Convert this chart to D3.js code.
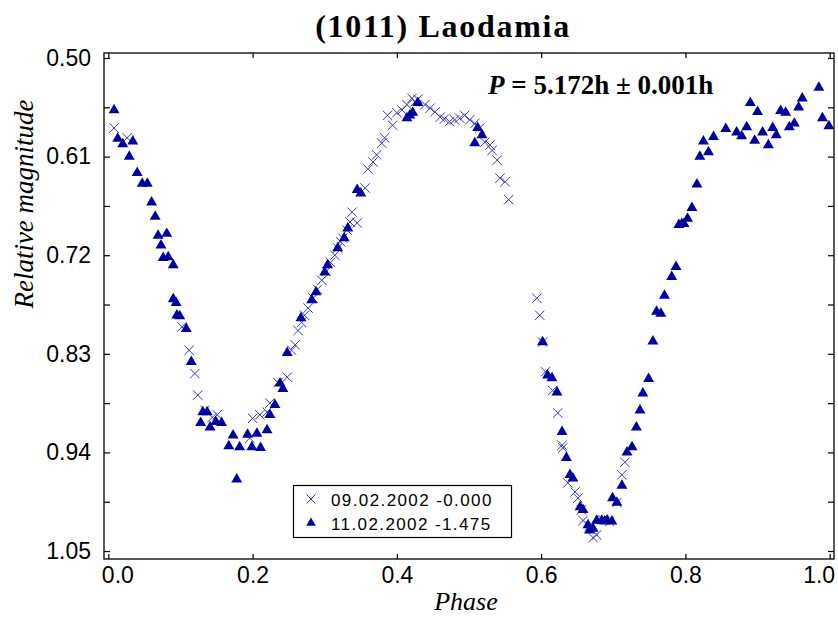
<!DOCTYPE html>
<html>
<head>
<meta charset="utf-8">
<script src="https://cdn.jsdelivr.net/npm/d3@7"></script>
<style>
  body { margin: 0; background: #fff; }
  svg { display: block; }
</style>
</head>
<body>
<div id="chart"></div>
<script>
// Data : lightcurve of (1011) Laodamia
var title = "(1011) Laodamia";
var seriesNames = ["09.02.2002 -0.000", "11.02.2002 -1.475"];

// 09.02.2002 (crosses)
var phaseA = [0.008,0.026,0.102,0.112,0.120,0.124,0.134,0.144,0.151,0.196,0.200,0.210,0.220,0.224,0.235,0.248,
  0.254,0.259,0.263,0.268,0.272,0.277,0.284,0.290,0.296,0.302,0.308,0.314,0.318,0.322,0.325,0.331,0.335,0.338,0.345,
  0.356,0.360,0.367,0.372,0.379,0.383,0.387,0.394,0.400,0.407,0.414,0.421,0.425,0.429,0.439,0.446,0.453,0.460,
  0.466,0.473,0.480,0.487,0.494,0.501,0.508,0.515,0.522,0.529,0.532,0.539,0.543,0.550,0.555,
  0.594,0.598,0.602,0.606,0.616,0.623,0.629,0.630,0.637,0.647,0.651,0.656,0.658,0.667,0.672,0.677,0.685,0.695,
  0.705,0.712,0.716];
var magA = [0.578,0.589,0.800,0.826,0.852,0.876,0.893,0.901,0.898,0.924,0.902,0.898,0.895,0.885,0.862,0.856,
  0.826,0.820,0.804,0.795,0.787,0.779,0.768,0.758,0.748,0.738,0.728,0.720,0.712,0.705,0.701,0.692,0.683,0.672,0.684,
  0.645,0.624,0.616,0.608,0.595,0.589,0.564,0.575,0.561,0.558,0.552,0.545,0.549,0.546,0.552,0.556,0.560,0.566,
  0.568,0.571,0.569,0.567,0.564,0.569,0.573,0.578,0.594,0.597,0.603,0.614,0.634,0.638,0.658,
  0.768,0.787,0.817,0.850,0.871,0.896,0.932,0.935,0.974,0.984,0.991,1.004,1.016,1.022,1.035,1.032,1.015,1.017,
  0.996,0.965,0.951];

// 11.02.2002 (triangles)
var phaseB = [0.008,0.013,0.020,0.034,0.029,0.040,0.047,0.054,0.060,0.065,0.069,0.081,0.073,0.076,0.083,0.090,
  0.090,0.094,0.095,0.099,0.108,0.115,0.131,0.137,0.128,0.141,0.149,0.157,0.167,0.173,0.178,0.182,0.193,0.199,
  0.206,0.211,0.220,0.224,0.231,0.238,0.242,0.248,0.267,0.282,0.288,0.300,0.304,0.318,0.327,0.332,0.345,0.350,
  0.414,0.418,0.422,0.429,0.508,0.512,0.518,
  0.602,0.609,0.615,0.622,0.629,0.635,0.640,0.644,0.654,0.658,0.665,0.667,0.672,0.677,0.684,0.688,0.692,0.698,
  0.699,0.705,0.712,0.719,0.726,0.732,0.737,0.741,0.749,0.755,0.760,0.766,0.771,0.781,0.787,0.791,0.795,0.798,
  0.803,0.809,0.816,0.820,0.825,0.832,0.839,0.856,0.871,0.878,0.885,0.890,0.896,0.900,0.907,0.915,0.921,0.926,
  0.932,0.939,0.944,0.951,0.957,0.962,0.985,0.990,0.999];
var magB = [0.558,0.590,0.596,0.593,0.610,0.628,0.640,0.640,0.661,0.677,0.698,0.696,0.709,0.723,0.722,0.731,
  0.769,0.773,0.787,0.788,0.802,0.839,0.895,0.895,0.907,0.912,0.906,0.907,0.933,0.921,0.970,0.934,0.920,0.934,
  0.919,0.935,0.915,0.898,0.887,0.863,0.869,0.829,0.790,0.770,0.761,0.739,0.731,0.712,0.701,0.690,0.647,0.651,
  0.567,0.564,0.561,0.550,0.595,0.578,0.586,
  0.817,0.854,0.857,0.873,0.917,0.946,0.965,0.969,1.001,1.004,1.021,1.027,1.025,1.016,1.016,1.017,1.016,1.017,
  0.991,0.996,0.977,0.940,0.934,0.912,0.893,0.874,0.858,0.816,0.783,0.785,0.765,0.744,0.733,0.686,0.685,0.685,
  0.679,0.667,0.641,0.610,0.593,0.605,0.588,0.579,0.583,0.587,0.577,0.550,0.592,0.560,0.583,0.597,0.578,0.586,
  0.559,0.561,0.577,0.573,0.555,0.545,0.533,0.567,0.576];

var xTicks = [0, 0.2, 0.4, 0.6, 0.8, 1.0];
var yTicks = [0.50, 0.555, 0.61, 0.665, 0.72, 0.775, 0.83, 0.885, 0.94, 0.995, 1.05];
var yLabels = [0.50, 0.61, 0.72, 0.83, 0.94, 1.05];

var width = 838,
    height = 619;

var colorCross = "#3535c8",
    colorTri = "#0000a0";

var svg = d3.select("#chart").append("svg")
  .attr("width", width)
  .attr("height", height);

var x = d3.scaleLinear().domain([-0.006, 1.006]).range([104, 834]);
var y = d3.scaleLinear().domain([0.4944, 1.0589]).range([53, 559]);

// frame
svg.append("rect")
  .attr("x", 104).attr("y", 53)
  .attr("width", 730).attr("height", 506)
  .attr("fill", "none")
  .attr("stroke", "#000")
  .attr("stroke-width", 1.3);

var fmtY = function(d) {
  return yLabels.indexOf(d) != -1 ? d3.format(".2f")(d) : "";
};

var xBottom = svg.append("g")
  .attr("transform", "translate(0,559)")
  .call(d3.axisBottom(x).tickValues(xTicks).tickSize(-5).tickPadding(8).tickFormat(d3.format(".1f")));
var xTop = svg.append("g")
  .attr("transform", "translate(0,53)")
  .call(d3.axisTop(x).tickValues(xTicks).tickSize(-5).tickFormat(""));
var yLeft = svg.append("g")
  .attr("transform", "translate(104,0)")
  .call(d3.axisLeft(y).tickValues(yTicks).tickSize(-6).tickPadding(13).tickFormat(fmtY));
var yRight = svg.append("g")
  .attr("transform", "translate(834,0)")
  .call(d3.axisRight(y).tickValues(yTicks).tickSize(-6).tickFormat(""));

[xBottom, xTop, yLeft, yRight].forEach(function(g) {
  g.select(".domain").remove();
  g.selectAll(".tick line").attr("stroke", "#000").attr("stroke-width", 1.2);
  g.selectAll("text")
    .attr("fill", "#000")
    .style("font-family", "'Liberation Sans', Arial, sans-serif")
    .style("font-size", "23px");
});

// keep end labels inside the frame
xBottom.selectAll(".tick text")
  .attr("dx", function(d) { return d == 0 ? 9 : (d == 1 ? -11 : 0); });

// points : crosses
var r = 4.7;
svg.append("g").selectAll("path")
  .data(d3.range(phaseA.length)).enter()
  .append("path")
  .attr("d", function(i) {
    var cx = x(phaseA[i]), cy = y(magA[i]);
    return "M" + (cx - r) + "," + (cy - r) + "L" + (cx + r) + "," + (cy + r) +
           "M" + (cx - r) + "," + (cy + r) + "L" + (cx + r) + "," + (cy - r);
  })
  .attr("stroke", colorCross)
  .attr("stroke-width", 1)
  .attr("fill", "none");

// points : triangles
var tri = d3.symbol().type(d3.symbolTriangle).size(52);
svg.append("g").selectAll("path")
  .data(d3.range(phaseB.length)).enter()
  .append("path")
  .attr("d", tri)
  .attr("transform", function(i) { return "translate(" + x(phaseB[i]) + "," + y(magB[i]) + ")"; })
  .attr("fill", colorTri);

// title
svg.append("text")
  .attr("x", 443).attr("y", 37)
  .attr("text-anchor", "middle")
  .style("font-family", "'Liberation Serif', 'Times New Roman', serif")
  .style("font-weight", "bold")
  .style("font-size", "32px")
  .style("letter-spacing", "1.7px")
  .text(title);

// period
var per = svg.append("text")
  .attr("x", 488).attr("y", 94)
  .style("font-family", "'Liberation Serif', 'Times New Roman', serif")
  .style("font-weight", "bold")
  .style("font-size", "27px");
per.append("tspan").style("font-style", "italic").text("P");
per.append("tspan").text(" = 5.172h \u00b1 0.001h");

// axis labels
svg.append("text")
  .attr("x", 466).attr("y", 610)
  .attr("text-anchor", "middle")
  .style("font-family", "'Liberation Serif', 'Times New Roman', serif")
  .style("font-style", "italic")
  .style("font-size", "26px")
  .text("Phase");

svg.append("text")
  .attr("transform", "translate(33,204) rotate(-90)")
  .attr("text-anchor", "middle")
  .style("font-family", "'Liberation Serif', 'Times New Roman', serif")
  .style("font-style", "italic")
  .style("font-size", "27px")
  .text("Relative magnitude");

// legend
var legend = svg.append("g");
legend.append("rect")
  .attr("x", 293.5).attr("y", 485.5)
  .attr("width", 218).attr("height", 52)
  .attr("fill", "#fff")
  .attr("stroke", "#000")
  .attr("stroke-width", 1.2);

var lr = 4.5;
legend.append("path")
  .attr("d", "M" + (311 - lr) + "," + (499 - lr) + "L" + (311 + lr) + "," + (499 + lr) +
             "M" + (311 - lr) + "," + (499 + lr) + "L" + (311 + lr) + "," + (499 - lr))
  .attr("stroke", colorCross)
  .attr("fill", "none");
legend.append("path")
  .attr("d", d3.symbol().type(d3.symbolTriangle).size(40))
  .attr("transform", "translate(311,523)")
  .attr("fill", colorTri);

legend.selectAll("text.lab")
  .data(seriesNames).enter()
  .append("text")
  .attr("class", "lab")
  .attr("x", 331)
  .attr("y", function(d, i) { return 506 + i * 24; })
  .style("font-family", "'Liberation Sans', Arial, sans-serif")
  .style("font-size", "17px")
  .style("letter-spacing", "1.4px")
  .text(function(d) { return d; });
</script>
</body>
</html>
